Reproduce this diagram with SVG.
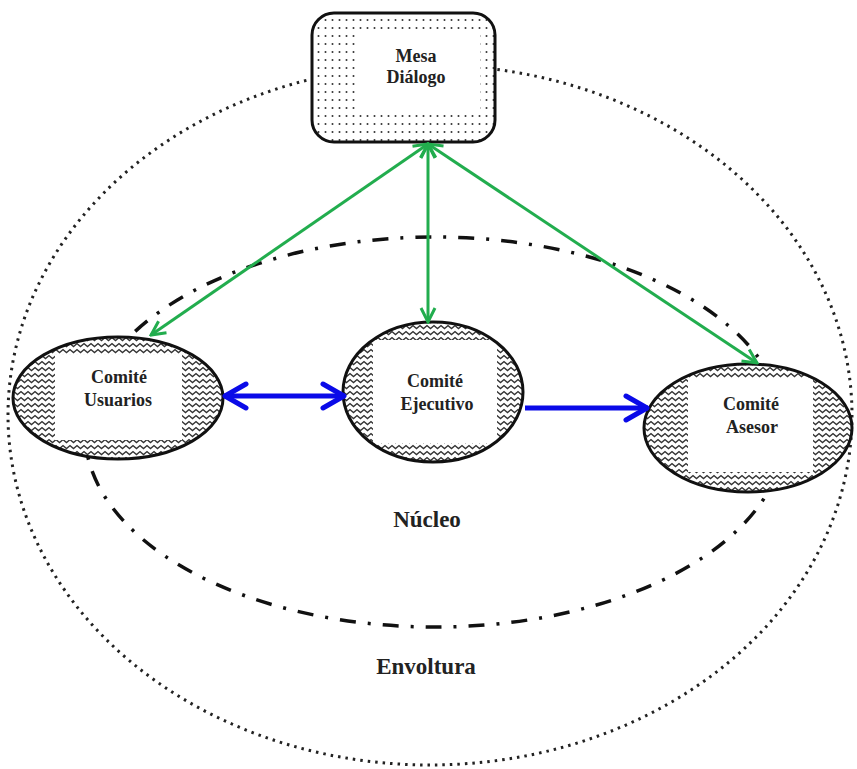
<svg xmlns="http://www.w3.org/2000/svg" width="857" height="769" viewBox="0 0 857 769">
<defs>
<style>
.lbl{font-family:"Liberation Serif","Times New Roman",serif;font-weight:bold;fill:#222;text-anchor:middle}
.node-t{font-size:18px}
.big{font-size:23px}
.outline{fill:none;stroke:#111;stroke-width:3}
.bg{fill:#fff}
.green{stroke:#22ad4e;stroke-width:3;fill:none}
.blue{stroke:#0a0ae8;stroke-width:5;fill:none}
</style>
<pattern id="zig" width="7" height="6" patternUnits="userSpaceOnUse">
<rect width="7" height="6" fill="#fff"/>
<path d="M-0.5,1.2 L3.5,4.6 L7.5,1.2" fill="none" stroke="#333" stroke-width="1.3"/>
</pattern>
<pattern id="dots" width="7" height="8" patternUnits="userSpaceOnUse">
<rect width="7" height="8" fill="#fff"/>
<circle cx="3.5" cy="4" r="1" fill="#333"/>
</pattern>
<marker id="gh" markerUnits="userSpaceOnUse" markerWidth="20" markerHeight="20" viewBox="0 0 20 20" refX="18" refY="10" orient="auto-start-reverse">
<path d="M4,3 L18,10 L4,17" fill="none" stroke="#22ad4e" stroke-width="3"/>
</marker>
<marker id="bh" markerUnits="userSpaceOnUse" markerWidth="30" markerHeight="30" viewBox="0 0 30 30" refX="27" refY="15" orient="auto-start-reverse">
<path d="M5,3 L26,15 L5,27" fill="none" stroke="#0a0ae8" stroke-width="5" stroke-linejoin="round" stroke-linecap="round"/>
</marker>
</defs>
<rect width="857" height="769" fill="#fff"/>
<g id="envoltura">
<ellipse cx="430" cy="415" rx="422" ry="350" fill="none" stroke="#222" stroke-width="3" stroke-dasharray="2.5 5"/>
</g>
<g id="nucleo">
<ellipse cx="435" cy="432" rx="350" ry="195" fill="none" stroke="#111" stroke-width="3.5" stroke-dasharray="16 12 3 12"/>
</g>
<g id="mesa-dialogo">
<rect x="312" y="13" width="183" height="129" rx="22" fill="url(#dots)"/>
<rect x="355" y="35" width="125" height="78" class="bg"/>
<rect x="312" y="13" width="183" height="129" rx="22" class="outline"/>
<text class="lbl node-t" x="416" y="62">Mesa</text>
<text class="lbl node-t" x="416" y="83">Diálogo</text>
</g>
<g id="comite-usuarios">
<ellipse cx="118" cy="398" rx="105" ry="61" fill="url(#zig)"/>
<rect x="55" y="355" width="127" height="85" class="bg"/>
<ellipse cx="118" cy="398" rx="105" ry="61" class="outline"/>
<text class="lbl node-t" x="119" y="383">Comité</text>
<text class="lbl node-t" x="118" y="406">Usuarios</text>
</g>
<g id="comite-ejecutivo">
<ellipse cx="433" cy="392" rx="90" ry="70" fill="url(#zig)"/>
<rect x="373" y="340" width="124" height="103" class="bg"/>
<ellipse cx="433" cy="392" rx="90" ry="70" class="outline"/>
<text class="lbl node-t" x="435" y="387">Comité</text>
<text class="lbl node-t" x="437" y="410">Ejecutivo</text>
</g>
<g id="comite-asesor">
<ellipse cx="748" cy="428" rx="104" ry="64" fill="url(#zig)"/>
<rect x="688" y="378" width="125" height="94" class="bg"/>
<ellipse cx="748" cy="428" rx="104" ry="64" class="outline"/>
<text class="lbl node-t" x="751" y="410">Comité</text>
<text class="lbl node-t" x="752" y="433">Asesor</text>
</g>
<g id="labels">
<text class="lbl big" x="427" y="527">Núcleo</text>
<text class="lbl big" x="426" y="674">Envoltura</text>
</g>
<g id="connectors">
<line class="green" x1="428" y1="144" x2="151" y2="335" marker-start="url(#gh)" marker-end="url(#gh)"/>
<line class="green" x1="428" y1="144" x2="428" y2="322" marker-start="url(#gh)" marker-end="url(#gh)"/>
<line class="green" x1="428" y1="144" x2="757" y2="363" marker-start="url(#gh)" marker-end="url(#gh)"/>
<line class="blue" x1="224" y1="396" x2="345" y2="396" marker-start="url(#bh)" marker-end="url(#bh)"/>
<line class="blue" x1="525" y1="408" x2="648" y2="408" marker-end="url(#bh)"/>
</g>
</svg>
